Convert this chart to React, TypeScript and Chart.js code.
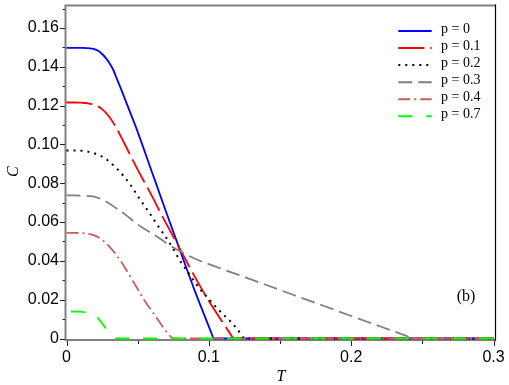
import React, { useEffect, useRef } from "react";
import { Chart, registerables } from "chart.js";
Chart.register(...registerables);

// ---- data ----
const seriesLabels = ["p = 0", "p = 0.1", "p = 0.2", "p = 0.3", "p = 0.4", "p = 0.7"];

const tP0 = [0, 0.005, 0.01, 0.0125, 0.015, 0.0175, 0.02, 0.0225, 0.025, 0.0275, 0.03, 0.0325, 0.035, 0.0375, 0.04, 0.045, 0.05, 0.06, 0.07, 0.08, 0.09, 0.1025, 0.1032, 0.2, 0.3];
const cP0 = [0.1498, 0.1498, 0.1498, 0.1497, 0.1496, 0.1494, 0.149, 0.1481, 0.1466, 0.1446, 0.1421, 0.139, 0.1345, 0.13, 0.1254, 0.116, 0.1065, 0.0858, 0.0652, 0.0449, 0.0248, 0.0014, 0, 0, 0];

const tP1 = [0, 0.005, 0.01, 0.015, 0.02, 0.025, 0.03, 0.035, 0.04, 0.045, 0.05, 0.055, 0.06, 0.065, 0.07, 0.08, 0.09, 0.1, 0.11, 0.1165, 0.1172, 0.2, 0.3];
const cP1 = [0.1216, 0.1216, 0.1215, 0.1212, 0.1203, 0.1182, 0.1143, 0.1085, 0.1015, 0.0942, 0.087, 0.0802, 0.0735, 0.0663, 0.0593, 0.0457, 0.032, 0.0193, 0.008, 0.0008, 0, 0, 0];

const tP2 = [0, 0.005, 0.01, 0.015, 0.02, 0.025, 0.03, 0.035, 0.04, 0.045, 0.05, 0.055, 0.06, 0.065, 0.07, 0.075, 0.08, 0.085, 0.09, 0.095, 0.1, 0.105, 0.11, 0.115, 0.12, 0.1255, 0.2, 0.3];
const cP2 = [0.0969, 0.0969, 0.0968, 0.0963, 0.0953, 0.0937, 0.0912, 0.0878, 0.0838, 0.0791, 0.0735, 0.0682, 0.0628, 0.0572, 0.052, 0.0462, 0.0398, 0.0345, 0.0292, 0.0244, 0.0203, 0.0162, 0.0125, 0.0089, 0.0048, 0, 0, 0];

const tP3 = [0, 0.005, 0.01, 0.015, 0.02, 0.025, 0.03, 0.035, 0.04, 0.045, 0.05, 0.055, 0.06, 0.065, 0.07, 0.08, 0.09, 0.1, 0.12, 0.14, 0.16, 0.18, 0.2, 0.22, 0.2425, 0.2435, 0.3];
const cP3 = [0.0737, 0.0737, 0.0736, 0.0734, 0.073, 0.0716, 0.0696, 0.0671, 0.0646, 0.0617, 0.0588, 0.0564, 0.0541, 0.0518, 0.0492, 0.0449, 0.0412, 0.0383, 0.033, 0.0277, 0.0223, 0.017, 0.0116, 0.0063, 0.0003, 0, 0];

const tP4 = [0, 0.005, 0.01, 0.015, 0.02, 0.025, 0.03, 0.035, 0.04, 0.045, 0.05, 0.055, 0.06, 0.065, 0.07, 0.0755, 0.2, 0.3];
const cP4 = [0.0544, 0.0544, 0.0543, 0.054, 0.053, 0.0508, 0.0475, 0.043, 0.0378, 0.0316, 0.0255, 0.0193, 0.0141, 0.0089, 0.0036, 0, 0, 0];

const tP7 = [0, 0.005, 0.01, 0.015, 0.02, 0.025, 0.03, 0.0325, 0.033, 0.2, 0.3];
const cP7 = [0.0139, 0.0139, 0.0138, 0.0134, 0.0122, 0.0078, 0.0029, 0.0004, 0, 0, 0];

const xTickValues = [0, 0.1, 0.2, 0.3];
const xTickLabels = ["0", "0.1", "0.2", "0.3"];
const xMinorTicks = [0.05, 0.15, 0.25];
const yTickValues = [0, 0.02, 0.04, 0.06, 0.08, 0.1, 0.12, 0.14, 0.16];
const yTickLabels = ["0", "0.02", "0.04", "0.06", "0.08", "0.10", "0.12", "0.14", "0.16"];
const yMinorTicks = [0.01, 0.03, 0.05, 0.07, 0.09, 0.11, 0.13, 0.15, 0.17];

const X_MAX = 0.3014;
const Y_MAX = 0.172;

// ---- styles ----
const seriesT = [tP0, tP1, tP2, tP3, tP4, tP7];
const seriesC = [cP0, cP1, cP2, cP3, cP4, cP7];
const seriesColors = ["#0000ff", "#ff0000", "#000000", "#808080", "#cd5c5c", "#00ff00"];
const seriesDash = [[], [26, 6], [2, 5], [14, 6], [12, 4, 2, 4], [14, 14]];
const seriesDashOffset = [0, 0, 0, 0, 0, 23.5];
const seriesWidth = [1.8, 1.8, 2, 1.8, 1.8, 1.8];

const SERIF = '"Liberation Serif", "Times New Roman", serif';
const SANS = '"Liberation Sans", Arial, sans-serif';

const framePlugin = {
  id: "frameAndTicks",
  beforeDatasetsDraw(chart: any) {
    const { ctx, chartArea: a, scales } = chart;
    const x = scales.x;
    const y = scales.y;
    ctx.save();
    ctx.setLineDash([]);
    ctx.strokeStyle = "#808080";
    ctx.lineWidth = 2;
    ctx.beginPath();
    ctx.moveTo(a.left - 2, a.top + 0.8);
    ctx.lineTo(a.right + 0.5, a.top + 0.8);
    ctx.moveTo(a.left - 1, a.top - 0.2);
    ctx.lineTo(a.left - 1, a.bottom + 2.5);
    ctx.moveTo(a.left - 2, a.bottom + 1.5);
    ctx.lineTo(a.right + 0.5, a.bottom + 1.5);
    ctx.stroke();
    ctx.strokeStyle = "#000000";
    ctx.lineWidth = 1.2;
    ctx.beginPath();
    ctx.moveTo(a.right, a.top - 0.2);
    ctx.lineTo(a.right, a.bottom + 2.5);
    ctx.stroke();
    ctx.strokeStyle = "#222222";
    ctx.lineWidth = 1;
    ctx.beginPath();
    for (const v of yTickValues) {
      const py = Math.round(y.getPixelForValue(v)) + 0.5;
      ctx.moveTo(a.left - 6.5, py);
      ctx.lineTo(a.left - 1.5, py);
    }
    for (const v of yMinorTicks) {
      const py = Math.round(y.getPixelForValue(v)) + 0.5;
      ctx.moveTo(a.left - 4, py);
      ctx.lineTo(a.left - 1.5, py);
    }
    for (const v of xTickValues) {
      const px = Math.round(x.getPixelForValue(v)) + 0.5;
      ctx.moveTo(px, a.bottom + 2.5);
      ctx.lineTo(px, a.bottom + 7.5);
    }
    for (const v of xMinorTicks) {
      const px = Math.round(x.getPixelForValue(v)) + 0.5;
      ctx.moveTo(px, a.bottom + 2.5);
      ctx.lineTo(px, a.bottom + 5.5);
    }
    ctx.stroke();
    ctx.restore();
  },
  afterDraw(chart: any) {
    const { ctx } = chart;
    ctx.save();
    const x0 = 398.3;
    const x1 = 431.7;
    const tx = 441;
    const rowY0 = 31;
    const dy = 17.05;
    chart.data.datasets.forEach((ds: any, i: number) => {
      const ly = rowY0 + i * dy;
      ctx.strokeStyle = ds.borderColor;
      ctx.lineWidth = 2;
      ctx.setLineDash(ds.borderDash || []);
      ctx.lineDashOffset = 0;
      ctx.beginPath();
      ctx.moveTo(x0, ly);
      ctx.lineTo(x1, ly);
      ctx.stroke();
      ctx.setLineDash([]);
      ctx.fillStyle = "#000";
      ctx.font = `14px ${SERIF}`;
      ctx.textAlign = "left";
      ctx.textBaseline = "alphabetic";
      ctx.fillText(ds.label, tx, ly + 1.8);
    });
    ctx.font = `16px ${SERIF}`;
    ctx.textAlign = "center";
    ctx.textBaseline = "middle";
    ctx.fillStyle = "#000";
    ctx.fillText("(b)", 466, 297);
    ctx.restore();
  },
};

export default function App() {
  const ref = useRef<HTMLCanvasElement | null>(null);
  useEffect(() => {
    if (!ref.current) return;
    const datasets = seriesLabels.map((label, i) => ({
      label,
      data: seriesT[i].map((t, k) => ({ x: t, y: seriesC[i][k] })),
      borderColor: seriesColors[i],
      backgroundColor: seriesColors[i],
      borderDash: seriesDash[i],
      borderDashOffset: seriesDashOffset[i],
      borderWidth: seriesWidth[i],
      pointRadius: 0,
      pointHoverRadius: 0,
      fill: false,
      order: seriesLabels.length - i,
      cubicInterpolationMode: "monotone" as const,
      clip: false as any,
    }));
    const chart = new Chart(ref.current, {
      type: "line",
      data: { datasets },
      options: {
        animation: false,
        responsive: false,
        devicePixelRatio: 1,
        layout: { padding: { left: 0, right: 13.5, top: 4.7, bottom: 0 } },
        plugins: { legend: { display: false }, tooltip: { enabled: false } },
        scales: {
          x: {
            type: "linear",
            min: 0,
            max: X_MAX,
            afterBuildTicks: (s: any) => {
              s.ticks = xTickValues.map((v) => ({ value: v }));
            },
            afterFit: (s: any) => {
              s.height = 46.5;
              s.paddingLeft = 0;
              s.paddingRight = 0;
            },
            ticks: {
              autoSkip: false,
              maxRotation: 0,
              padding: 9.5,
              color: "#000",
              font: { family: SANS, size: 16 },
              callback: (_v: any, i: number) => xTickLabels[i],
            },
            grid: { display: false, drawTicks: false },
            border: { display: false },
            title: {
              display: true,
              text: "T",
              color: "#000",
              font: { family: SERIF, size: 16, style: "italic", lineHeight: 1 },
              padding: 0,
            },
          },
          y: {
            type: "linear",
            min: 0,
            max: Y_MAX,
            afterBuildTicks: (s: any) => {
              s.ticks = yTickValues.map((v) => ({ value: v }));
            },
            afterFit: (s: any) => {
              s.width = 66.5;
              s.paddingTop = 0;
              s.paddingBottom = 0;
            },
            ticks: {
              autoSkip: false,
              padding: 7.5,
              color: "#000",
              font: { family: SANS, size: 16 },
              callback: (_v: any, i: number) => yTickLabels[i],
            },
            grid: { display: false, drawTicks: false },
            border: { display: false },
            title: {
              display: true,
              text: "C",
              color: "#000",
              font: { family: SERIF, size: 16, style: "italic", lineHeight: 1 },
              padding: { top: 5.5, bottom: 0 },
            },
          },
        },
      },
      plugins: [framePlugin],
    });
    return () => chart.destroy();
  }, []);
  return (
    <div style={{ position: "fixed", left: 0, top: 0, width: 509, height: 385, background: "#fff" }}>
      <canvas ref={ref} width={509} height={385} style={{ width: 509, height: 385, display: "block" }} />
    </div>
  );
}
